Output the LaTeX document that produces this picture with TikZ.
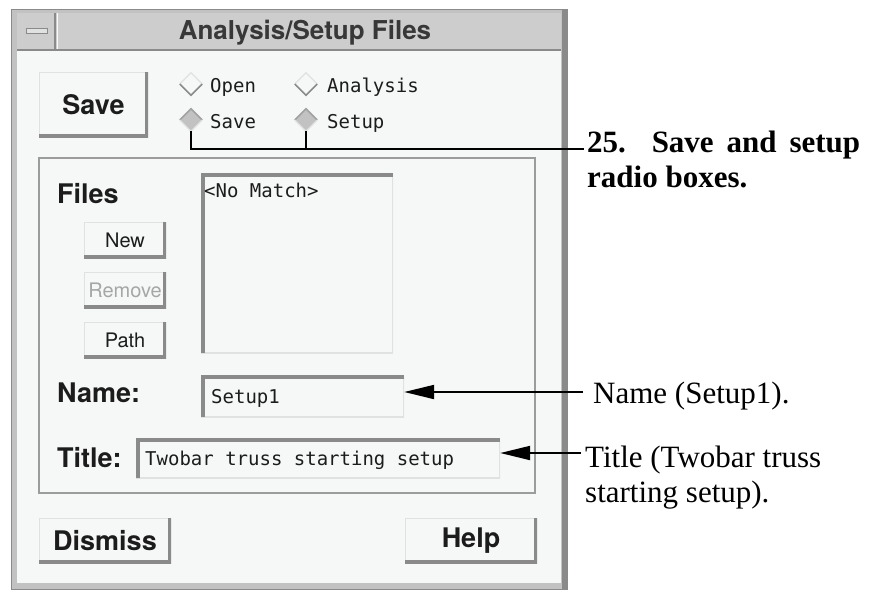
\documentclass[tikz,border=0pt]{standalone}
\usepackage{fontspec}
\setmainfont{Liberation Serif}
\newfontfamily\guisf{TeX Gyre Heros}
\newfontfamily\guitt{DejaVu Sans Mono}
\usetikzlibrary{arrows.meta, shapes.geometric}

\definecolor{winbg}{HTML}{F6F8F8}
\definecolor{barbg}{HTML}{CDCDCD}
\definecolor{framebg}{HTML}{C2C2C2}
\definecolor{edge}{HTML}{8A8A8A}
\definecolor{lite}{HTML}{E0E2E2}
\definecolor{ink}{HTML}{1C1C1C}

\begin{document}
\begin{tikzpicture}[x=1pt, y=-1pt]
        \tikzstyle{every node} = [inner sep=0pt, text=ink]
        \tikzstyle{lbl}   = [font=\guisf\bfseries\fontsize{27}{30}\selectfont]
        \tikzstyle{mono}  = [font=\guitt\fontsize{19}{22}\selectfont]
        \tikzstyle{btn}   = [fill=winbg, path picture={
                \draw[lite, line width=2pt] (path picture bounding box.south west) -- (path picture bounding box.north west)
                    -- (path picture bounding box.north east);
                \draw[edge, line width=6pt] (path picture bounding box.south west) -- (path picture bounding box.south east)
                    -- (path picture bounding box.north east);}]
        \tikzstyle{bigbtn}   = [btn, lbl, minimum height=45pt, minimum width=132pt]
        \tikzstyle{smallbtn} = [btn, font=\guisf\fontsize{20}{22}\selectfont, minimum height=36pt, minimum width=82pt]
        \tikzstyle{field} = [fill=winbg, path picture={
                \draw[lite, line width=2pt] (path picture bounding box.south west) -- (path picture bounding box.south east)
                    -- (path picture bounding box.north east);
                \draw[edge, line width=7pt] (path picture bounding box.south west) -- (path picture bounding box.north west)
                    -- (path picture bounding box.north east);}]
        \tikzstyle{toggle} = [diamond, minimum size=22pt]
        \tikzstyle{leader} = [line width=1.2pt]
        \tikzstyle{pointer} = [line width=2pt, -{Triangle[length=30pt, width=14pt]}]
        \tikzstyle{note}   = [font=\fontsize{31}{35}\selectfont, text=black, align=left]

        \def\rowa{84}
        \def\rowb{120}
        \def\cola{191}
        \def\colb{306}

        \useasboundingbox (0,0) rectangle (869,592);

        % window frame and title bar
        \draw[edge, fill=framebg] (11,9) rectangle (567,589);
        \fill[edge] (562,9) rectangle (567,589);
        \fill[barbg] (17,13) rectangle (561,49);
        \draw[edge, line width=2pt] (17,50) -- (561,50);
        \fill[winbg] (17,51) rectangle (561,583);
        \draw[edge, line width=2pt] (55,13) -- (55,49);
        \draw[white!90!barbg, line width=1pt] (57,13) -- (57,49);
        \node[draw=edge, fill=lite, minimum width=21pt, minimum height=5pt] (minbtn) at (37,31) {};
        \node[font=\guisf\bfseries\fontsize{26}{30}\selectfont, text=black!78] (wintitle) at (305,33) {Analysis/Setup Files};

        % save button and radio boxes
        \node[btn, lbl, minimum width=109pt, minimum height=65pt] (bsave) at (93.5,104.5) {Save};

        \node[toggle] (ropen) at (\cola,\rowa) {};
        \node[toggle] (ranalysis) at (\colb,\rowa) {};
        \node[toggle, fill=framebg] (rsave) at (\cola,\rowb) {};
        \node[toggle, fill=framebg] (rsetup) at (\colb,\rowb) {};
        \foreach \r in {ropen, ranalysis} {
            \draw[lite, line width=1.2pt] (\r.west) -- (\r.north) -- (\r.east);
            \draw[edge, line width=1.6pt] (\r.west) -- (\r.south) -- (\r.east);
        }
        \foreach \r in {rsave, rsetup} {
            \draw[edge!80, line width=1.6pt] (\r.west) -- (\r.north) -- (\r.east);
            \draw[lite, line width=1.2pt] (\r.west) -- (\r.south) -- (\r.east);
        }

        \node[mono, anchor=base west] (topen) at (210,92) {Open};
        \node[mono, anchor=base west] (tanalysis) at (327,92) {Analysis};
        \node[mono, anchor=base west] (tsave) at (210,128) {Save};
        \node[mono, anchor=base west] (tsetup) at (327,128) {Setup};

        % files frame
        \draw[edge!85, line width=1.5pt] (39,158) rectangle (535,493);
        \node[lbl, anchor=base west] (lfiles) at (57,203) {Files};
        \node[smallbtn] (bnew) at (125,240) {New};
        \node[smallbtn, text=black!35] (bremove) at (125,290) {Remove};
        \node[smallbtn] (bpath) at (125,340) {Path};
        \node[field, minimum width=192pt, minimum height=180pt] (filelist) at (297,263) {};
        \node[mono, anchor=base west] (nomatch) at (204,197) {<No Match>};

        \node[lbl, anchor=base west] (lname) at (57,402) {Name:};
        \node[field, minimum width=203pt, minimum height=42pt] (namefield) at (302.5,396) {};
        \node[mono, anchor=base west] (tname) at (211,403) {Setup1};

        \node[lbl, anchor=base west] (ltitle) at (57,467) {Title:};
        \node[field, minimum width=364pt, minimum height=40pt] (titlefield) at (318,458) {};
        \node[mono, anchor=base west] (ttitle) at (145,465) {Twobar truss starting setup};

        % bottom buttons
        \node[bigbtn] (bdismiss) at (105,540.5) {Dismiss};
        \node[bigbtn] (bhelp) at (471,540.5) {Help};

        % callouts (base anchor sits on the last line)
        \node[note, anchor=base west, font=\bfseries\fontsize{31}{35}\selectfont] (note25) at (587,187)
            {\makebox[273pt][s]{25. Save and setup}\\radio boxes.};
        \coordinate (c25) at (584,149);
        \draw[leader] (rsave.south) |- (c25);
        \draw[leader] (rsetup.south) -- (rsetup.south |- c25);

        \node[note, anchor=base west] (notename) at (593,403) {Name (Setup1).};
        \coordinate (cname) at (583,392);
        \draw[pointer] (cname) -- (cname -| namefield.east);

        \node[note, anchor=base west] (notetitle) at (585,502) {Title (Twobar truss\\starting setup).};
        \coordinate (ctitle) at (581,453);
        \draw[pointer] (ctitle) -- (ctitle -| titlefield.east);
\end{tikzpicture}
\end{document}
